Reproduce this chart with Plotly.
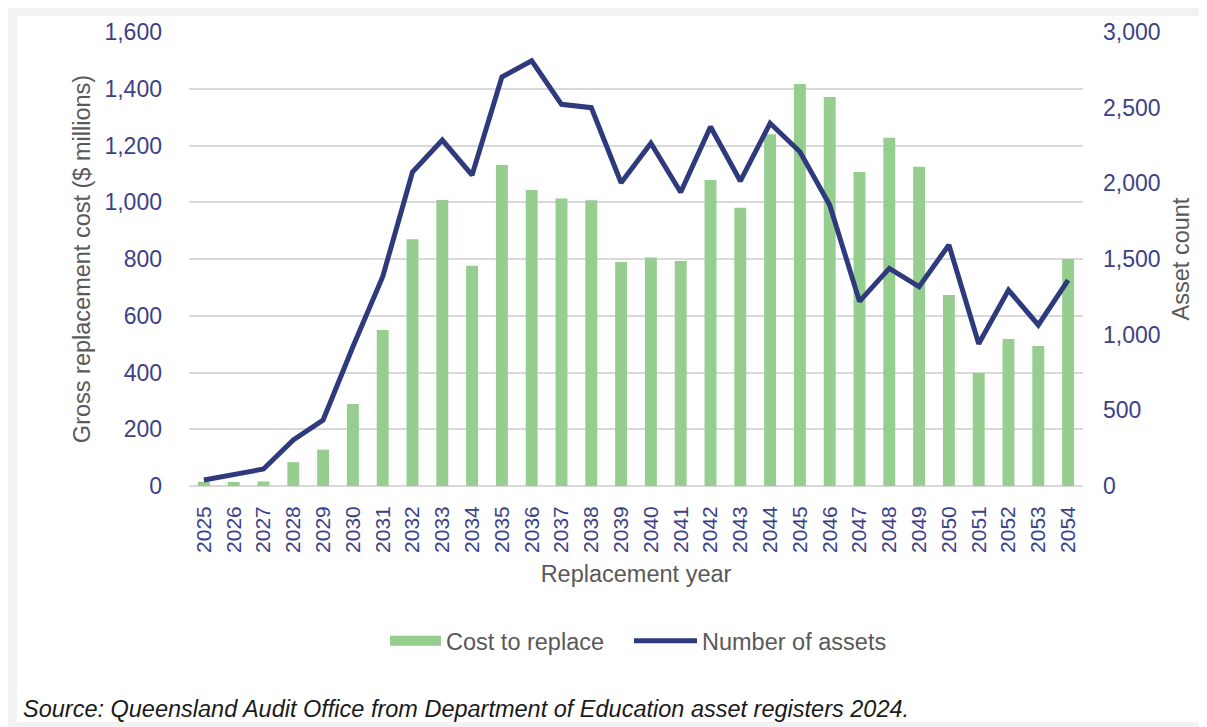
import plotly.graph_objects as go

years = [str(y) for y in range(2025, 2055)]
cost_to_replace = [15, 14, 16, 84, 128, 289, 550, 870, 1008, 776, 1131, 1043, 1013, 1007,
                   789, 805, 793, 1078, 981, 1240, 1417, 1371, 1107, 1227, 1125, 673, 398,
                   518, 493, 800]
number_of_assets = [40, 77, 112, 304, 436, 920, 1383, 2075, 2286, 2055, 2703, 2810, 2522,
                    2500, 2004, 2265, 1941, 2374, 2015, 2397, 2209, 1857, 1220, 1438, 1317,
                    1593, 940, 1295, 1064, 1361]
left_ticks = list(range(0, 1601, 200))
right_ticks = list(range(0, 3001, 500))

GREEN = "#95CE8F"
NAVY = "#2E3A7C"
TICK = "#3B4187"
GREY = "#595959"
FONT = "Liberation Sans, Arial, sans-serif"

# figure is placed at (8,8) in the page by the default body margin
W, H = 1199, 719
L, R, T, B = 181, 1075, 24, 478
PW, PH = R - L, B - T


def px(x):
    return (x - L) / PW


def py(y):
    return (B - y) / PH


fig = go.Figure()
fig.add_trace(go.Bar(x=years, y=cost_to_replace, name="Cost to replace",
                     marker=dict(color=GREEN, line=dict(width=0)), showlegend=False))
fig.add_trace(go.Scatter(x=years, y=number_of_assets, name="Number of assets",
                         mode="lines", line=dict(color=NAVY, width=5),
                         yaxis="y2", showlegend=False))
# legend entries
fig.add_trace(go.Scatter(x=[None], y=[None], name="Cost to replace", mode="lines",
                         line=dict(color=GREEN, width=12), legend="legend"))
fig.add_trace(go.Scatter(x=[None], y=[None], name="Number of assets", mode="lines",
                         line=dict(color=NAVY, width=5), yaxis="y2", legend="legend2"))

legend_common = dict(orientation="h", xanchor="left", y=py(633), yanchor="middle",
                     font=dict(color=GREY, size=23.5), bgcolor="rgba(0,0,0,0)")

fig.update_layout(
    width=W, height=H,
    margin=dict(l=L, r=W - R, t=T, b=H - B),
    paper_bgcolor="white", plot_bgcolor="white",
    font=dict(family=FONT, size=23, color=GREY),
    bargap=0.6,
    xaxis=dict(type="category", tickangle=-90, tickfont=dict(color=TICK, size=21),
               showgrid=False, showline=False, ticks="", ticklabelstandoff=15,
               title=dict(text="Replacement year", font=dict(color=GREY, size=23.5), standoff=13)),
    yaxis=dict(range=[0, 1600], tickvals=left_ticks, tickformat=",",
               tickfont=dict(color=TICK, size=23), gridcolor="#D9D9D9", gridwidth=1.5,
               zeroline=True, zerolinecolor="#D9D9D9", zerolinewidth=1.5,
               showline=False, ticks="", ticklabelstandoff=26,
               title=dict(text="Gross replacement cost ($ millions)",
                          font=dict(color=GREY, size=23.5), standoff=7)),
    yaxis2=dict(range=[0, 3000], tickvals=right_ticks, tickformat=",",
                overlaying="y", side="right", showgrid=False, zeroline=False,
                tickfont=dict(color=TICK, size=23), ticks="", ticklabelstandoff=19,
                title=dict(text="Asset count", font=dict(color=GREY, size=23.5), standoff=12)),
    legend=dict(x=px(382 - 5), itemwidth=51, **legend_common),
    legend2=dict(x=px(626 - 5), itemwidth=63, **legend_common),
    shapes=[
        dict(type="rect", xref="paper", yref="paper", layer="below",
             x0=px(-10), x1=px(W + 10), y0=py(H + 10), y1=py(-10),
             fillcolor="#F2F2F2", line=dict(width=0)),
        dict(type="rect", xref="paper", yref="paper", layer="below",
             x0=px(9), x1=px(1192), y0=py(714), y1=py(8),
             fillcolor="white", line=dict(width=0)),
    ],
    annotations=[
        dict(text="<i>Source: Queensland Audit Office from Department of Education asset registers 2024.</i>",
             xref="paper", yref="paper", x=px(13), y=py(701),
             xanchor="left", yanchor="middle", showarrow=False,
             font=dict(family=FONT, size=23.5, color="#1A1A1A")),
    ],
)

fig.write_html("out.html")
